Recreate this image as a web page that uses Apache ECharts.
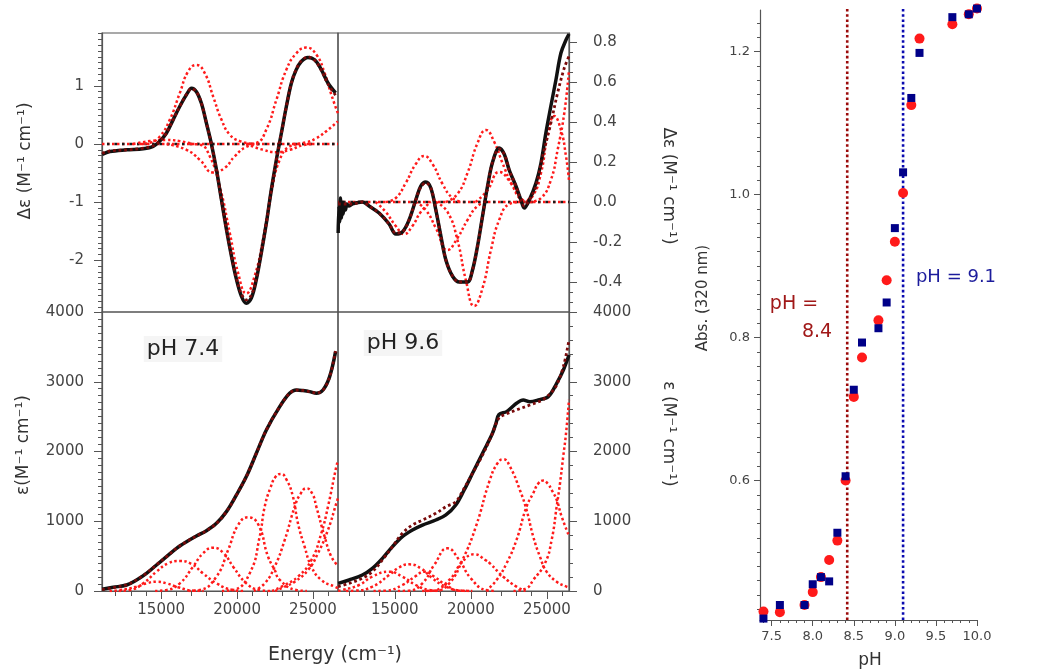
<!DOCTYPE html>
<html><head><meta charset="utf-8">
<script src="https://cdn.jsdelivr.net/npm/echarts@6/dist/echarts.min.js"></script>
<style>html,body{margin:0;padding:0;background:#fff}#c{width:1050px;height:671px}</style>
</head><body><div id="c"></div>
<script>
// ---------- CD spectra, pH 7.4 (top-left) ----------
const cd74Exp = [[11110,-0.18],[11620,-0.13],[12720,-0.10],[13820,-0.08],[14470,-0.04],[14910,0.05],[15350,0.19],[15790,0.42],[16230,0.65],[16670,0.85],[17000,0.96],[17320,0.90],[17650,0.70],[17980,0.36],[18310,0.00],[18640,-0.44],[18970,-0.96],[19300,-1.47],[19630,-1.93],[19960,-2.33],[20290,-2.62],[20610,-2.74],[20940,-2.65],[21270,-2.33],[21600,-1.87],[21930,-1.36],[22260,-0.78],[22590,-0.27],[22920,0.19],[23250,0.65],[23580,1.05],[23900,1.28],[24230,1.42],[24670,1.49],[25110,1.45],[25550,1.28],[25990,1.05],[26490,0.88]];
const cd74Fit = [[11110,-0.16],[11620,-0.12],[12720,-0.10],[13820,-0.07],[14470,-0.03],[14910,0.05],[15350,0.19],[15790,0.42],[16230,0.65],[16670,0.86],[17000,0.95],[17320,0.90],[17650,0.70],[17980,0.36],[18310,0.00],[18640,-0.44],[18970,-0.96],[19300,-1.47],[19630,-1.92],[19960,-2.31],[20290,-2.58],[20610,-2.68],[20940,-2.60],[21270,-2.31],[21600,-1.86],[21930,-1.36],[22260,-0.78],[22590,-0.27],[22920,0.19],[23250,0.65],[23580,1.05],[23900,1.29],[24230,1.43],[24670,1.50],[25110,1.44],[25550,1.27],[25990,1.03],[26490,0.84]];
const cd74C0 = [[13160,0],[14250,0.05],[15350,0.07],[16230,0.05],[17100,0]];
const cd74C1 = [[13600,0],[14250,0.02],[14910,0.13],[15570,0.42],[16230,0.88],[16780,1.25],[17320,1.36],[17870,1.22],[18420,0.82],[18970,0.42],[19520,0.16],[20180,0.05],[21050,0]];
const cd74C2 = [[16900,0],[17540,-0.01],[18200,-0.21],[18860,-0.73],[19520,-1.53],[20070,-2.22],[20610,-2.57],[21160,-2.27],[21710,-1.64],[22260,-0.84],[22810,-0.27],[23470,-0.04],[24120,0]];
const cd74C3 = [[20600,0],[21270,0.02],[21930,0.25],[22590,0.76],[23250,1.28],[23900,1.56],[24560,1.66],[25220,1.54],[25770,1.22],[26210,0.85],[26640,0.53]];
const cd74C4 = [[15350,0],[16670,-0.10],[17540,-0.27],[18420,-0.49],[19190,-0.41],[19850,-0.21],[20610,-0.05],[21490,0]];
const cd74C5 = [[20610,0],[21710,-0.10],[22590,-0.14],[23470,-0.10],[24340,-0.02],[25000,0]];
const cd74C6 = [[23680,0],[24560,0.03],[25220,0.10],[25880,0.22],[26640,0.39]];

// ---------- CD spectra, pH 9.6 (top-right) ----------
const cd96Exp = [[11280,-0.155],[11330,-0.02],[11380,-0.10],[11430,0.02],[11490,-0.08],[11550,0.0],[11610,-0.06],[11680,-0.01],[11760,-0.04],[11860,-0.01],[11980,-0.02],[12215,-0.01],[12870,0.0],[13310,-0.02],[13970,-0.055],[14630,-0.11],[15070,-0.16],[15500,-0.15],[15940,-0.09],[16380,0.01],[16710,0.08],[17040,0.10],[17370,0.07],[17700,-0.04],[18030,-0.17],[18360,-0.29],[18790,-0.37],[19230,-0.40],[19780,-0.40],[20110,-0.34],[20440,-0.22],[20770,-0.07],[21100,0.08],[21430,0.20],[21860,0.27],[22190,0.24],[22520,0.16],[22960,0.08],[23290,0.01],[23510,-0.03],[23840,0.01],[24280,0.095],[24610,0.195],[24930,0.345],[25260,0.48],[25590,0.61],[25920,0.745],[26250,0.81],[26450,0.84]];
const cd96Fit = [[11280,-0.01],[12215,-0.01],[12870,0.0],[13310,-0.02],[13970,-0.055],[14630,-0.11],[15070,-0.155],[15500,-0.15],[15940,-0.09],[16380,0.01],[16710,0.075],[17040,0.095],[17370,0.07],[17700,-0.04],[18030,-0.17],[18360,-0.29],[18790,-0.37],[19230,-0.40],[19780,-0.40],[20110,-0.34],[20440,-0.22],[20770,-0.07],[21100,0.08],[21430,0.20],[21860,0.265],[22190,0.24],[22520,0.16],[22960,0.08],[23290,0.01],[23510,-0.02],[23840,0.01],[24280,0.078],[24720,0.228],[25260,0.395],[25700,0.545],[26140,0.67],[26450,0.73]];
const cd96C1 = [[13750,0],[14410,-0.05],[15070,-0.12],[15610,-0.16],[16160,-0.12],[16710,-0.05],[17370,0]];
const cd96C2 = [[14410,0],[15070,0.02],[15720,0.095],[16380,0.19],[16930,0.23],[17480,0.19],[18140,0.09],[18790,0.02],[19450,0]];
const cd96C3 = [[16380,0],[17040,-0.04],[17700,-0.13],[18470,-0.24],[19120,-0.18],[19780,-0.09],[20440,-0.02],[21100,0]];
const cd96C4 = [[18360,0],[19120,0.04],[19780,0.145],[20440,0.295],[20990,0.36],[21540,0.30],[22080,0.195],[22740,0.08],[23400,0.01],[24060,0]];
const cd96C5 = [[17700,0],[18470,-0.05],[19120,-0.19],[19670,-0.39],[20220,-0.52],[20770,-0.43],[21320,-0.24],[21860,-0.09],[22520,-0.01],[23180,0]];
const cd96C6 = [[20330,0],[21100,0.06],[21860,0.15],[22630,0.095],[23400,0.01],[23840,0]];
const cd96C7 = [[23400,0],[24060,0.03],[24610,0.145],[25040,0.33],[25480,0.43],[25920,0.36],[26250,0.23],[26450,0.11]];
const cd96C8 = [[23840,0],[24610,0.02],[25260,0.11],[25700,0.26],[26140,0.445],[26450,0.66]];

// ---------- Absorption, pH 7.4 (bottom-left) ----------
const abs74Exp = [[11110,24],[11840,53],[12720,86],[13380,158],[14030,253],[14690,373],[15350,492],[16010,612],[16670,707],[17320,789],[17980,865],[18640,970],[19300,1138],[19960,1377],[20610,1640],[21270,1974],[21930,2309],[22810,2643],[23460,2834],[23900,2882],[24340,2873],[24780,2858],[25220,2835],[25660,2882],[26100,3074],[26490,3432]];
const abs74Fit = [[11110,20],[11840,50],[12720,90],[13380,160],[14030,255],[14690,375],[15350,492],[16010,612],[16670,707],[17320,789],[17980,865],[18640,970],[19300,1138],[19960,1377],[20610,1640],[21270,1974],[21930,2309],[22810,2643],[23460,2834],[23900,2880],[24340,2875],[24780,2860],[25220,2840],[25660,2880],[26100,3070],[26490,3440]];
const abs74C1 = [[11600,0],[12280,14],[13380,62],[14030,110],[14690,134],[15350,110],[16120,53],[17100,5],[17800,0]];
const abs74C2 = [[12200,0],[12940,14],[13820,110],[14690,277],[15460,397],[16230,430],[17000,387],[17760,253],[18640,110],[19740,14],[20400,0]];
const abs74C3 = [[14600,0],[15350,14],[16230,110],[17100,349],[17760,540],[18420,621],[19080,550],[19740,349],[20610,110],[21490,14],[22200,0]];
const abs74C4 = [[16800,0],[17540,14],[18640,206],[19410,588],[20070,946],[20720,1056],[21380,960],[22040,493],[22480,301],[22810,160],[23900,14],[24600,0]];
const abs74C5 = [[19000,0],[19740,14],[20830,253],[21490,779],[21820,1210],[22200,1480],[22550,1640],[22900,1679],[23250,1600],[23680,1354],[24010,971],[24450,636],[24900,349],[25550,158],[26430,62],[26650,40]];
const abs74C6 = [[21100,0],[21820,110],[22480,349],[23140,732],[23800,1210],[24170,1390],[24570,1473],[24970,1390],[25220,1210],[25770,779],[26210,493],[26650,360]];
const abs74C7 = [[22300,0],[23140,86],[24010,205],[24900,445],[25550,828],[25990,1210],[26540,1784],[26650,1870]];
const abs74C8 = [[22500,0],[23140,62],[23800,134],[24680,301],[25330,541],[25990,875],[26540,1258],[26650,1330]];

// ---------- Absorption, pH 9.6 (bottom-right) ----------
const abs96Exp = [[11280,110],[12000,158],[12870,229],[13530,325],[14190,468],[14850,636],[15500,779],[16160,875],[16820,946],[17700,1018],[18360,1090],[19010,1233],[19560,1448],[20110,1687],[20770,1976],[21400,2250],[21650,2404],[21850,2530],[22350,2572],[23000,2691],[23440,2739],[23880,2715],[24430,2739],[25090,2787],[25640,2978],[26080,3169],[26450,3384]];
const abs96Fit = [[11280,62],[12000,110],[12870,182],[13530,277],[14190,445],[14850,636],[15500,827],[16160,946],[16820,1018],[17700,1114],[18360,1209],[19010,1281],[19560,1472],[20110,1687],[20770,1950],[21400,2250],[21850,2480],[22350,2540],[23000,2596],[23880,2667],[24700,2739],[25300,2850],[25640,2954],[26080,3217],[26450,3599]];
const abs96C1 = [[11280,5],[11560,14],[12650,86],[13530,206],[14630,277],[15500,206],[16380,86],[17260,14],[18000,0]];
const abs96C2 = [[11800,0],[12430,5],[13530,62],[14630,229],[15290,339],[15940,382],[16710,325],[17480,182],[18360,62],[19450,5],[20100,0]];
const abs96C3 = [[13600,0],[14410,5],[15500,86],[16380,215],[16930,277],[17590,206],[18360,86],[19230,5],[19900,0]];
const abs96C4 = [[15200,0],[15940,5],[16820,110],[17590,373],[18470,612],[19230,445],[20000,182],[20990,14],[21600,0]];
const abs96C5 = [[16800,0],[17480,5],[18580,158],[19450,421],[20220,526],[20990,440],[21250,397],[22130,205],[23000,62],[23600,0]];
const abs96C6 = [[17000,0],[17700,5],[18580,110],[19450,445],[20330,923],[21250,1593],[21750,1831],[22130,1890],[22570,1784],[23220,1449],[23660,1162],[24100,779],[24540,493],[24980,277],[25640,134],[26290,62],[26450,50]];
const abs96C7 = [[21000,0],[21690,158],[22350,397],[23000,732],[23660,1210],[24100,1402],[24430,1540],[24760,1583],[25050,1540],[25310,1449],[25640,1306],[25970,1066],[26450,790]];
const abs96C8 = [[22800,0],[23660,40],[24100,158],[24870,397],[25310,732],[25640,1210],[25860,1545],[26070,1928],[26250,2250],[26450,2739]];

// ---------- pH titration (right) ----------
const phValues = [7.4,7.6,7.9,8.0,8.1,8.2,8.3,8.4,8.5,8.6,8.8,8.9,9.0,9.1,9.2,9.3,9.7,9.9,10.0];
const absRed  = [0.417,0.416,0.426,0.444,0.465,0.489,0.516,0.600,0.717,0.772,0.824,0.880,0.934,1.002,1.125,1.218,1.238,1.252,1.260];
const absBlue = [0.407,0.426,0.426,0.455,0.465,0.459,0.527,0.606,0.727,0.793,0.813,0.849,0.953,1.031,1.135,1.198,1.248,1.252,1.260];
const pKaRed = 8.42, pKaBlue = 9.10;

// ---------- tick labels ----------
const cd74Ticks = [-2,-1,0,1];
const cd96Ticks = [-0.4,-0.2,0,0.2,0.4,0.6,0.8];
const absTicks = [0,1000,2000,3000,4000];
const energyTicks = [15000,20000,25000];
const phTicks = [7.5,8.0,8.5,9.0,9.5,10.0];
const absPhTicks = [0.6,0.8,1.0,1.2];

const FONT = 'DejaVu Sans';
const AX = '#555', TXT = '#444';

function hiddenX(gi, min, max){
  return {type:'value', gridIndex:gi, min, max, show:false};
}
function energyX(gi, min, max){
  return {type:'value', gridIndex:gi, min, max, splitNumber:3,
    axisLine:{show:true, lineStyle:{color:AX, width:1.2}},
    axisTick:{show:true, inside:false, length:8, customValues:energyTicks, lineStyle:{color:AX}},
    minorTick:{show:true, splitNumber:5, length:5, lineStyle:{color:AX}},
    axisLabel:{customValues:energyTicks, formatter:v=>String(v), margin:12, fontFamily:FONT, fontSize:15, color:TXT},
    splitLine:{show:false}, minorSplitLine:{show:false}};
}
function yAx(gi, min, max, pos, ticks, fmt, split, minorSplit, margin, extra){
  return Object.assign({type:'value', gridIndex:gi, min, max, position:pos, splitNumber:split,
    axisLine:{show:true, lineStyle:{color:AX, width:1.2}},
    axisTick:{show:true, inside:false, length:8, customValues:ticks, lineStyle:{color:AX}},
    minorTick:{show:true, splitNumber:minorSplit, length:4, lineStyle:{color:AX}},
    axisLabel:{customValues:ticks, formatter:fmt, margin, fontFamily:FONT, fontSize:15, color:TXT},
    splitLine:{show:false}, minorSplitLine:{show:false}}, extra||{});
}

const series = [];
function comp(data, xi){
  series.push({type:'line', xAxisIndex:xi, yAxisIndex:xi, data, showSymbol:false, smooth:0.5,
    lineStyle:{color:'#ff1a1a', width:2.5, type:'dotted'}, z:2, silent:true});
}
function zero(xi, min, max){
  series.push({type:'line', xAxisIndex:xi, yAxisIndex:xi, data:[[min,0],[max,0]], showSymbol:false,
    lineStyle:{color:'#ff1a1a', width:2.5, type:'dotted'}, z:2, silent:true});
  series.push({type:'line', xAxisIndex:xi, yAxisIndex:xi, data:[[min,0],[max,0]], showSymbol:false,
    lineStyle:{color:'#1a1a1a', width:2.5, type:[2.5,5], dashOffset:2.5}, z:2, silent:true});
}
function exp(data, xi){
  series.push({type:'line', xAxisIndex:xi, yAxisIndex:xi, data, showSymbol:false, smooth:0.35,
    lineStyle:{color:'#111', width:3.5}, z:3, silent:true});
}
function fit(data, xi){
  series.push({type:'line', xAxisIndex:xi, yAxisIndex:xi, data, showSymbol:false, smooth:0.35,
    lineStyle:{color:'#7a0a0a', width:2.8, type:'dotted'}, z:4, silent:true});
}

// top-left
zero(0, 11100, 26650);
[cd74C0,cd74C1,cd74C2,cd74C3,cd74C4,cd74C5,cd74C6].forEach(d=>comp(d,0));
exp(cd74Exp,0); fit(cd74Fit,0);
// top-right
zero(1, 11270, 26450);
[cd96C1,cd96C2,cd96C3,cd96C4,cd96C5,cd96C6,cd96C7,cd96C8].forEach(d=>comp(d,1));
exp(cd96Exp,1); fit(cd96Fit,1);
// bottom-left
[abs74C1,abs74C2,abs74C3,abs74C4,abs74C5,abs74C6,abs74C7,abs74C8].forEach(d=>comp(d,2));
exp(abs74Exp,2); fit(abs74Fit,2);
// bottom-right
[abs96C1,abs96C2,abs96C3,abs96C4,abs96C5,abs96C6,abs96C7,abs96C8].forEach(d=>comp(d,3));
exp(abs96Exp,3); fit(abs96Fit,3);

// right chart
const yLo = 0.405, yHi = 1.262;
series.push({type:'line', xAxisIndex:4, yAxisIndex:4, data:[[pKaRed,yLo],[pKaRed,yHi]], showSymbol:false,
  lineStyle:{color:'#9b0a0a', width:2.6, type:'dotted'}, z:2, silent:true});
series.push({type:'line', xAxisIndex:4, yAxisIndex:4, data:[[pKaBlue,yLo],[pKaBlue,yHi]], showSymbol:false,
  lineStyle:{color:'#0a0ab0', width:2.6, type:'dotted'}, z:2, silent:true});
series.push({type:'scatter', xAxisIndex:4, yAxisIndex:4, data:phValues.map((p,i)=>[p,absRed[i]]),
  symbol:'circle', symbolSize:10, itemStyle:{color:'#ff1a1a', opacity:1}, z:3, clip:false, silent:true});
series.push({type:'scatter', xAxisIndex:4, yAxisIndex:4, data:phValues.map((p,i)=>[p,absBlue[i]]),
  symbol:'rect', symbolSize:8, itemStyle:{color:'#000088', opacity:1}, z:4, clip:false, silent:true});

const gridBox = {show:true, borderColor:AX, borderWidth:1.2, backgroundColor:'transparent'};
const option = {
  animation:false,
  backgroundColor:'#fff',
  grid:[
    Object.assign({left:102, top:33, width:236, height:279}, gridBox),
    Object.assign({left:338, top:33, width:231, height:279}, gridBox),
    Object.assign({left:102, top:312, width:236, height:279}, gridBox),
    Object.assign({left:338, top:312, width:231, height:279}, gridBox),
    {left:760, top:10, width:217, height:610, show:false}
  ],
  xAxis:[
    hiddenX(0, 11100, 26650),
    hiddenX(1, 11270, 26450),
    energyX(2, 11100, 26650),
    energyX(3, 11270, 26450),
    {type:'value', gridIndex:4, min:7.358, max:10.0, splitNumber:5,
      axisLine:{show:true, lineStyle:{color:AX, width:1.2}},
      axisTick:{show:true, inside:false, length:6, customValues:phTicks, lineStyle:{color:AX}},
      minorTick:{show:true, splitNumber:5, length:3, lineStyle:{color:AX}},
      axisLabel:{customValues:phTicks, formatter:v=>v.toFixed(1), margin:10, fontFamily:FONT, fontSize:13, color:TXT},
      splitLine:{show:false}}
  ],
  yAxis:[
    yAx(0, -2.89, 1.91, 'left', cd74Ticks, v=>String(v), 5, 10, 18),
    yAx(1, -0.55, 0.845, 'right', cd96Ticks, v=>v.toFixed(1), 7, 4, 24),
    yAx(2, 0, 4000, 'left', absTicks, v=>String(v), 4, 10, 18, {interval:1000}),
    yAx(3, 0, 4000, 'right', absTicks, v=>String(v), 4, 5, 24, {interval:1000}),
    {type:'value', gridIndex:4, min:yLo, max:1.258, splitNumber:5,
      axisLine:{show:true, lineStyle:{color:AX, width:1.2}},
      axisTick:{show:true, inside:false, length:6, customValues:absPhTicks, lineStyle:{color:AX}},
      minorTick:{show:true, splitNumber:10, length:3, lineStyle:{color:AX}},
      axisLabel:{customValues:absPhTicks, formatter:v=>v.toFixed(1), margin:10, fontFamily:FONT, fontSize:13, color:TXT},
      splitLine:{show:false}}
  ],
  graphic:[
    {type:'text', x:26, y:161, rotation:Math.PI/2, silent:true,
      style:{text:'Δε (M⁻¹ cm⁻¹)', align:'center', verticalAlign:'middle', fontFamily:FONT, fontSize:17, fill:'#333'}},
    {type:'text', x:24, y:445, rotation:Math.PI/2, silent:true,
      style:{text:'ε(M⁻¹ cm⁻¹)', align:'center', verticalAlign:'middle', fontFamily:FONT, fontSize:17, fill:'#333'}},
    {type:'text', x:668, y:186, rotation:-Math.PI/2, silent:true,
      style:{text:'Δε (M⁻¹ cm⁻¹)', align:'center', verticalAlign:'middle', fontFamily:FONT, fontSize:17, fill:'#333'}},
    {type:'text', x:668, y:434, rotation:-Math.PI/2, silent:true,
      style:{text:'ε (M⁻¹ cm⁻¹)', align:'center', verticalAlign:'middle', fontFamily:FONT, fontSize:17, fill:'#333'}},
    {type:'text', x:335, y:655, silent:true,
      style:{text:'Energy (cm⁻¹)', align:'center', verticalAlign:'middle', fontFamily:FONT, fontSize:19, fill:'#333'}},
    {type:'text', x:183, y:349, silent:true,
      style:{text:'pH 7.4', align:'center', verticalAlign:'middle', fontFamily:FONT, fontSize:22, fill:'#222', backgroundColor:'#f5f5f5', padding:[2,3]}},
    {type:'text', x:403, y:343, silent:true,
      style:{text:'pH 9.6', align:'center', verticalAlign:'middle', fontFamily:FONT, fontSize:22, fill:'#222', backgroundColor:'#f5f5f5', padding:[2,3]}},
    {type:'text', x:703, y:298, rotation:Math.PI/2, silent:true,
      style:{text:'Abs. (320 nm)', align:'center', verticalAlign:'middle', fontFamily:FONT, fontSize:15, fill:'#333'}},
    {type:'text', x:870, y:661, silent:true,
      style:{text:'pH', align:'center', verticalAlign:'middle', fontFamily:FONT, fontSize:17, fill:'#333'}},
    {type:'text', x:794, y:304, silent:true,
      style:{text:'pH =', align:'center', verticalAlign:'middle', fontFamily:FONT, fontSize:19, fill:'#a01818'}},
    {type:'text', x:817, y:332, silent:true,
      style:{text:'8.4', align:'center', verticalAlign:'middle', fontFamily:FONT, fontSize:19, fill:'#a01818'}},
    {type:'text', x:956, y:277, silent:true,
      style:{text:'pH = 9.1', align:'center', verticalAlign:'middle', fontFamily:FONT, fontSize:18, fill:'#1c1c9c'}}
  ],
  series
};
const chart = echarts.init(document.getElementById('c'), null, {renderer:'canvas'});
chart.setOption(option);
</script></body></html>
